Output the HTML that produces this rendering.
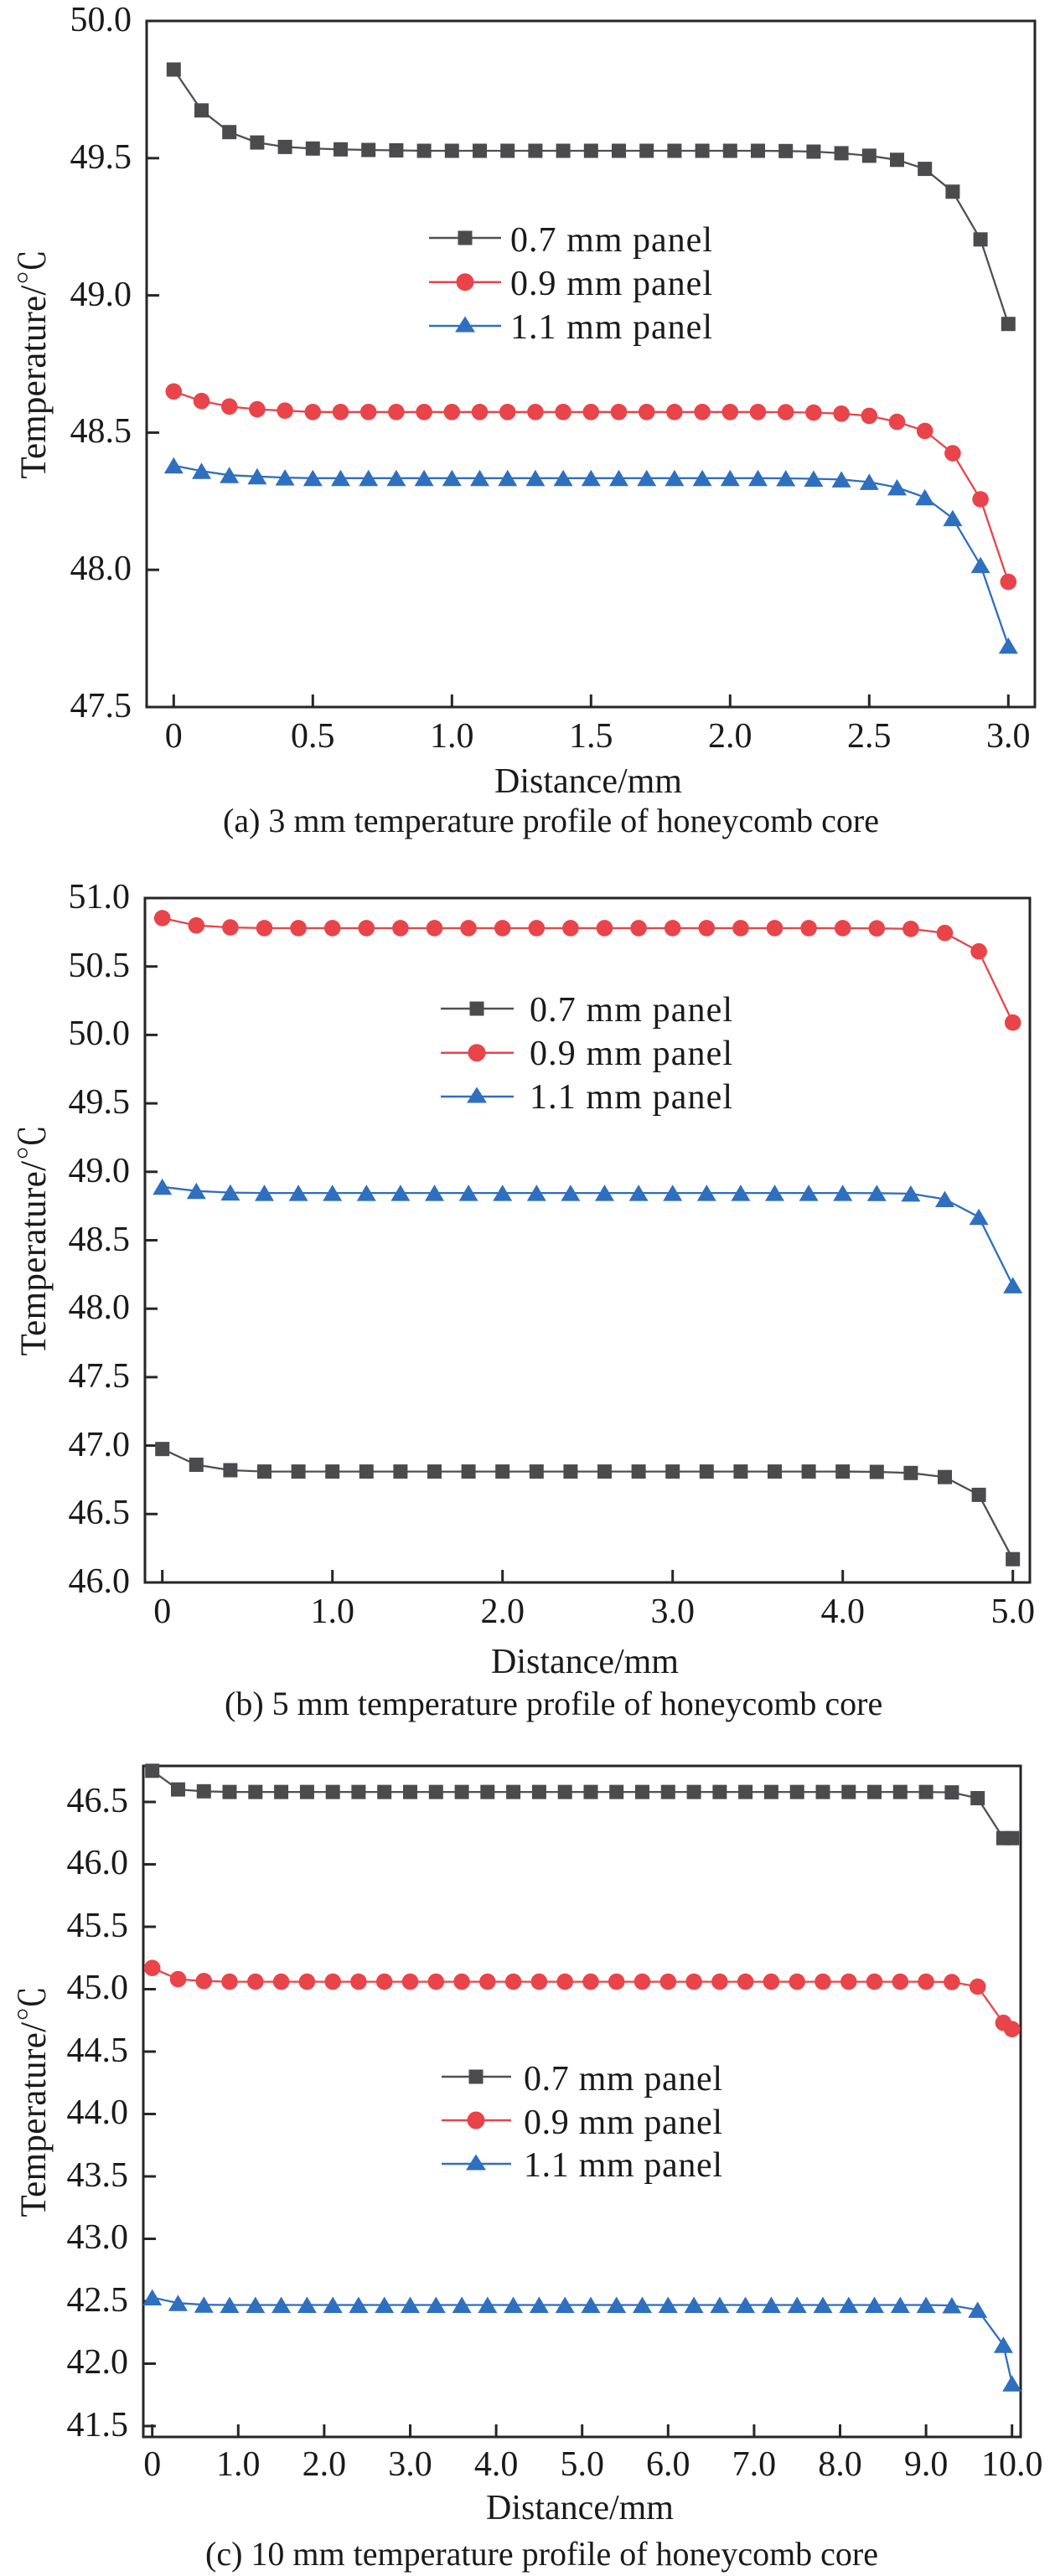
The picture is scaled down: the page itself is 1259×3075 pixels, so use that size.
<!DOCTYPE html>
<html><head><meta charset="utf-8"><style>
html,body{margin:0;padding:0;background:#fff}
svg{display:block}
text{font-family:"Liberation Serif","Noto Serif CJK SC",serif;fill:#1a1a1a}
.fr{fill:none;stroke:#262626;stroke-width:3}
.tk{stroke:#262626;stroke-width:3}
.yl{font-size:42px;text-anchor:end}
.xl{font-size:42px;text-anchor:middle}
.lg{font-size:42px}
.at{font-size:42px;text-anchor:middle}
.cap{font-size:40px}
.k{fill:none;stroke:#505052;stroke-width:2.3}
.r{fill:none;stroke:#e8444a;stroke-width:2.3}
.b{fill:none;stroke:#2f6fbf;stroke-width:2.3}
</style></head><body>
<svg width="1259" height="3075" viewBox="0 0 1259 3075" xmlns="http://www.w3.org/2000/svg">
<defs>
<marker id="mk" markerWidth="20" markerHeight="20" refX="10" refY="10" markerUnits="userSpaceOnUse" orient="0" overflow="visible"><rect x="1.5" y="1.5" width="17" height="17" fill="#4b4b4d"/></marker>
<marker id="mr" markerWidth="20" markerHeight="20" refX="10" refY="10" markerUnits="userSpaceOnUse" orient="0" overflow="visible"><circle cx="10" cy="10" r="9.8" fill="#e8444a"/></marker>
<marker id="mb" markerWidth="20" markerHeight="20" refX="10" refY="10" markerUnits="userSpaceOnUse" orient="0" overflow="visible"><polygon points="10,0 21.5,19.5 -1.5,19.5" fill="#2f6fbf"/></marker>
</defs>

<!-- ================= PANEL A ================= -->
<rect class="fr" x="175" y="25" width="1060" height="819"/>
<g class="tk">
<line x1="175" y1="188.8" x2="190" y2="188.8"/><line x1="175" y1="352.6" x2="190" y2="352.6"/><line x1="175" y1="516.4" x2="190" y2="516.4"/><line x1="175" y1="680.2" x2="190" y2="680.2"/>
<line x1="207.3" y1="844" x2="207.3" y2="829"/><line x1="373.3" y1="844" x2="373.3" y2="829"/><line x1="539.3" y1="844" x2="539.3" y2="829"/><line x1="705.3" y1="844" x2="705.3" y2="829"/><line x1="871.3" y1="844" x2="871.3" y2="829"/><line x1="1037.3" y1="844" x2="1037.3" y2="829"/><line x1="1203.3" y1="844" x2="1203.3" y2="829"/>
</g>
<text class="yl" x="157" y="37">50.0</text>
<text class="yl" x="157" y="201">49.5</text>
<text class="yl" x="157" y="365">49.0</text>
<text class="yl" x="157" y="528">48.5</text>
<text class="yl" x="157" y="692">48.0</text>
<text class="yl" x="157" y="856">47.5</text>
<text class="xl" x="207.3" y="892">0</text>
<text class="xl" x="373.3" y="892">0.5</text>
<text class="xl" x="539.3" y="892">1.0</text>
<text class="xl" x="705.3" y="892">1.5</text>
<text class="xl" x="871.3" y="892">2.0</text>
<text class="xl" x="1037.3" y="892">2.5</text>
<text class="xl" x="1203.3" y="892">3.0</text>
<text class="at" x="702" y="946">Distance/mm</text>
<text class="cap" x="266" y="993">(a) 3 mm temperature profile of honeycomb core</text>
<text transform="translate(54,434.5) rotate(-90)" font-size="43" text-anchor="middle" textLength="274">Temperature/℃</text>

<polyline class="k" marker-start="url(#mk)" marker-mid="url(#mk)" marker-end="url(#mk)" points="207.3,83 240.5,131.8 273.7,157.7 306.9,170.1 340.1,175.4 373.3,177.3 406.5,178.3 439.7,179 472.9,179.5 506.1,180 539.3,180 572.5,180 605.7,180 638.9,180 672.1,180 705.3,180 738.5,180 771.7,180 804.9,180 838.1,180 871.3,180 904.5,180 937.7,180.3 970.9,181 1004.1,182.9 1037.3,185.9 1070.5,190.8 1103.7,201.6 1136.9,228.8 1170.1,285.8 1203.3,386.7"/>
<polyline class="r" marker-start="url(#mr)" marker-mid="url(#mr)" marker-end="url(#mr)" points="207.3,467.3 240.5,478.7 273.7,485.3 306.9,488.6 340.1,490.2 373.3,491.8 406.5,491.8 439.7,491.8 472.9,491.8 506.1,491.8 539.3,491.8 572.5,491.8 605.7,491.8 638.9,491.8 672.1,491.8 705.3,491.8 738.5,491.8 771.7,491.8 804.9,491.8 838.1,491.8 871.3,491.8 904.5,491.8 937.7,492 970.9,492.5 1004.1,493.8 1037.3,496.4 1070.5,503.6 1103.7,514.4 1136.9,541 1170.1,596 1203.3,694.6"/>
<polyline class="b" marker-start="url(#mb)" marker-mid="url(#mb)" marker-end="url(#mb)" points="207.3,555.7 240.5,562.3 273.7,567.2 306.9,568.8 340.1,570.1 373.3,570.8 406.5,570.8 439.7,570.8 472.9,570.8 506.1,570.8 539.3,570.8 572.5,570.8 605.7,570.8 638.9,570.8 672.1,570.8 705.3,570.8 738.5,570.8 771.7,570.8 804.9,570.8 838.1,570.8 871.3,570.8 904.5,570.8 937.7,571 970.9,571.5 1004.1,572.4 1037.3,575.4 1070.5,581.9 1103.7,593.7 1136.9,618.6 1170.1,674.6 1203.3,770.9"/>

<!-- legend a -->
<line x1="512" y1="284" x2="598" y2="284" stroke="#505052" stroke-width="2.5"/>
<rect x="546.5" y="275.5" width="17" height="17" fill="#4b4b4d"/>
<line x1="512" y1="336.7" x2="598" y2="336.7" stroke="#e8444a" stroke-width="2.5"/>
<circle cx="555" cy="336.7" r="10.5" fill="#e8444a"/>
<line x1="512" y1="389" x2="598" y2="389" stroke="#2f6fbf" stroke-width="2.5"/>
<polygon points="555,377.5 567,396.5 543,396.5" fill="#2f6fbf"/>
<text class="lg" x="609" y="300" textLength="241">0.7 mm panel</text>
<text class="lg" x="609" y="352" textLength="241">0.9 mm panel</text>
<text class="lg" x="609" y="404" textLength="241">1.1 mm panel</text>

<!-- ================= PANEL B ================= -->
<rect class="fr" x="173" y="1072" width="1056" height="817"/>
<g class="tk">
<line x1="173" y1="1153.7" x2="188" y2="1153.7"/><line x1="173" y1="1235.4" x2="188" y2="1235.4"/><line x1="173" y1="1317.1" x2="188" y2="1317.1"/><line x1="173" y1="1398.8" x2="188" y2="1398.8"/><line x1="173" y1="1480.5" x2="188" y2="1480.5"/><line x1="173" y1="1562.2" x2="188" y2="1562.2"/><line x1="173" y1="1643.9" x2="188" y2="1643.9"/><line x1="173" y1="1725.6" x2="188" y2="1725.6"/><line x1="173" y1="1807.3" x2="188" y2="1807.3"/>
<line x1="193.7" y1="1889" x2="193.7" y2="1874"/><line x1="396.7" y1="1889" x2="396.7" y2="1874"/><line x1="599.7" y1="1889" x2="599.7" y2="1874"/><line x1="802.7" y1="1889" x2="802.7" y2="1874"/><line x1="1005.7" y1="1889" x2="1005.7" y2="1874"/><line x1="1208.7" y1="1889" x2="1208.7" y2="1874"/>
</g>
<text class="yl" x="155" y="1084">51.0</text>
<text class="yl" x="155" y="1166">50.5</text>
<text class="yl" x="155" y="1247">50.0</text>
<text class="yl" x="155" y="1329">49.5</text>
<text class="yl" x="155" y="1411">49.0</text>
<text class="yl" x="155" y="1493">48.5</text>
<text class="yl" x="155" y="1574">48.0</text>
<text class="yl" x="155" y="1656">47.5</text>
<text class="yl" x="155" y="1738">47.0</text>
<text class="yl" x="155" y="1819">46.5</text>
<text class="yl" x="155" y="1901">46.0</text>
<text class="xl" x="193.7" y="1937">0</text>
<text class="xl" x="396.7" y="1937">1.0</text>
<text class="xl" x="599.7" y="1937">2.0</text>
<text class="xl" x="802.7" y="1937">3.0</text>
<text class="xl" x="1005.7" y="1937">4.0</text>
<text class="xl" x="1208.7" y="1937">5.0</text>
<text class="at" x="698" y="1997">Distance/mm</text>
<text class="cap" x="268" y="2047">(b) 5 mm temperature profile of honeycomb core</text>
<text transform="translate(54,1480.5) rotate(-90)" font-size="43" text-anchor="middle" textLength="276">Temperature/℃</text>

<polyline class="r" marker-start="url(#mr)" marker-mid="url(#mr)" marker-end="url(#mr)" points="193.7,1096 234.3,1104.7 274.9,1107.1 315.5,1107.9 356.1,1107.9 396.7,1107.9 437.3,1107.9 477.9,1107.9 518.5,1107.9 559.1,1107.9 599.7,1107.9 640.3,1107.9 680.9,1107.9 721.5,1107.9 762.1,1107.9 802.7,1107.9 843.3,1107.9 883.9,1107.9 924.5,1107.9 965.1,1107.9 1005.7,1107.9 1046.3,1108.2 1086.9,1108.8 1127.5,1113.7 1168.1,1135.7 1208.7,1220.7"/>
<polyline class="b" marker-start="url(#mb)" marker-mid="url(#mb)" marker-end="url(#mb)" points="193.7,1416.8 234.3,1421.7 274.9,1423.6 315.5,1424.1 356.1,1424.1 396.7,1424.1 437.3,1424.1 477.9,1424.1 518.5,1424.1 559.1,1424.1 599.7,1424.1 640.3,1424.1 680.9,1424.1 721.5,1424.1 762.1,1424.1 802.7,1424.1 843.3,1424.1 883.9,1424.1 924.5,1424.1 965.1,1424.1 1005.7,1424.1 1046.3,1424.3 1086.9,1424.9 1127.5,1431.5 1168.1,1452.7 1208.7,1534.4"/>
<polyline class="k" marker-start="url(#mk)" marker-mid="url(#mk)" marker-end="url(#mk)" points="193.7,1729.7 234.3,1748.5 274.9,1755 315.5,1756.6 356.1,1756.6 396.7,1756.6 437.3,1756.6 477.9,1756.6 518.5,1756.6 559.1,1756.6 599.7,1756.6 640.3,1756.6 680.9,1756.6 721.5,1756.6 762.1,1756.6 802.7,1756.6 843.3,1756.6 883.9,1756.6 924.5,1756.6 965.1,1756.6 1005.7,1756.6 1046.3,1757 1086.9,1758.3 1127.5,1763.2 1168.1,1784.4 1208.7,1861.2"/>

<!-- legend b -->
<line x1="526" y1="1204" x2="613" y2="1204" stroke="#505052" stroke-width="2.5"/>
<rect x="560.5" y="1195.5" width="17" height="17" fill="#4b4b4d"/>
<line x1="526" y1="1256.7" x2="613" y2="1256.7" stroke="#e8444a" stroke-width="2.5"/>
<circle cx="569" cy="1256.7" r="10.5" fill="#e8444a"/>
<line x1="526" y1="1309" x2="613" y2="1309" stroke="#2f6fbf" stroke-width="2.5"/>
<polygon points="569,1297.5 581,1316.5 557,1316.5" fill="#2f6fbf"/>
<text class="lg" x="632" y="1219" textLength="242">0.7 mm panel</text>
<text class="lg" x="632" y="1271" textLength="242">0.9 mm panel</text>
<text class="lg" x="632" y="1323" textLength="242">1.1 mm panel</text>

<!-- ================= PANEL C ================= -->
<rect class="fr" x="171" y="2108" width="1047" height="801"/>
<g class="tk">
<line x1="171" y1="2151" x2="186" y2="2151"/><line x1="171" y1="2225.5" x2="186" y2="2225.5"/><line x1="171" y1="2300" x2="186" y2="2300"/><line x1="171" y1="2374.5" x2="186" y2="2374.5"/><line x1="171" y1="2449" x2="186" y2="2449"/><line x1="171" y1="2523.5" x2="186" y2="2523.5"/><line x1="171" y1="2598" x2="186" y2="2598"/><line x1="171" y1="2672.5" x2="186" y2="2672.5"/><line x1="171" y1="2747" x2="186" y2="2747"/><line x1="171" y1="2821.5" x2="186" y2="2821.5"/><line x1="171" y1="2896" x2="186" y2="2896"/>
<line x1="181.7" y1="2909" x2="181.7" y2="2894"/><line x1="284.3" y1="2909" x2="284.3" y2="2894"/><line x1="386.9" y1="2909" x2="386.9" y2="2894"/><line x1="489.5" y1="2909" x2="489.5" y2="2894"/><line x1="592.1" y1="2909" x2="592.1" y2="2894"/><line x1="694.7" y1="2909" x2="694.7" y2="2894"/><line x1="797.3" y1="2909" x2="797.3" y2="2894"/><line x1="899.9" y1="2909" x2="899.9" y2="2894"/><line x1="1002.5" y1="2909" x2="1002.5" y2="2894"/><line x1="1105.1" y1="2909" x2="1105.1" y2="2894"/><line x1="1207.7" y1="2909" x2="1207.7" y2="2894"/>
</g>
<text class="yl" x="153" y="2163">46.5</text>
<text class="yl" x="153" y="2237">46.0</text>
<text class="yl" x="153" y="2312">45.5</text>
<text class="yl" x="153" y="2386">45.0</text>
<text class="yl" x="153" y="2461">44.5</text>
<text class="yl" x="153" y="2535">44.0</text>
<text class="yl" x="153" y="2610">43.5</text>
<text class="yl" x="153" y="2684">43.0</text>
<text class="yl" x="153" y="2759">42.5</text>
<text class="yl" x="153" y="2833">42.0</text>
<text class="yl" x="153" y="2908">41.5</text>
<text class="xl" x="181.7" y="2955">0</text>
<text class="xl" x="284.3" y="2955">1.0</text>
<text class="xl" x="386.9" y="2955">2.0</text>
<text class="xl" x="489.5" y="2955">3.0</text>
<text class="xl" x="592.1" y="2955">4.0</text>
<text class="xl" x="694.7" y="2955">5.0</text>
<text class="xl" x="797.3" y="2955">6.0</text>
<text class="xl" x="899.9" y="2955">7.0</text>
<text class="xl" x="1002.5" y="2955">8.0</text>
<text class="xl" x="1105.1" y="2955">9.0</text>
<text class="xl" x="1207.7" y="2955">10.0</text>
<text class="at" x="692" y="3007">Distance/mm</text>
<text class="cap" x="245" y="3062">(c) 10 mm temperature profile of honeycomb core</text>
<text transform="translate(54,2508.5) rotate(-90)" font-size="43" text-anchor="middle" textLength="276">Temperature/℃</text>

<polyline class="k" marker-start="url(#mk)" marker-mid="url(#mk)" marker-end="url(#mk)" points="181.7,2113.8 212.5,2136.1 243.3,2138.3 274,2139.1 304.8,2139.1 335.6,2139.1 366.4,2139.1 397.2,2139.1 427.9,2139.1 458.7,2139.1 489.5,2139.1 520.3,2139.1 551.1,2139.1 581.8,2139.1 612.6,2139.1 643.4,2139.1 674.2,2139.1 705,2139.1 735.7,2139.1 766.5,2139.1 797.3,2139.1 828.1,2139.1 858.9,2139.1 889.6,2139.1 920.4,2139.1 951.2,2139.1 982,2139.1 1012.8,2139.1 1043.5,2139.1 1074.3,2139.1 1105.1,2139.1 1135.9,2139.6 1166.7,2146.5 1197.4,2194.2 1207.7,2194.2"/>
<polyline class="r" marker-start="url(#mr)" marker-mid="url(#mr)" marker-end="url(#mr)" points="181.7,2349.2 212.5,2362.6 243.3,2364.8 274,2365.6 304.8,2365.6 335.6,2365.6 366.4,2365.6 397.2,2365.6 427.9,2365.6 458.7,2365.6 489.5,2365.6 520.3,2365.6 551.1,2365.6 581.8,2365.6 612.6,2365.6 643.4,2365.6 674.2,2365.6 705,2365.6 735.7,2365.6 766.5,2365.6 797.3,2365.6 828.1,2365.6 858.9,2365.6 889.6,2365.6 920.4,2365.6 951.2,2365.6 982,2365.6 1012.8,2365.6 1043.5,2365.6 1074.3,2365.6 1105.1,2365.6 1135.9,2366 1166.7,2371.5 1197.4,2414.7 1207.7,2422.2"/>
<polyline class="b" marker-start="url(#mb)" marker-mid="url(#mb)" marker-end="url(#mb)" points="181.7,2742.5 212.5,2749.2 243.3,2751.2 274,2751.5 304.8,2751.5 335.6,2751.5 366.4,2751.5 397.2,2751.5 427.9,2751.5 458.7,2751.5 489.5,2751.5 520.3,2751.5 551.1,2751.5 581.8,2751.5 612.6,2751.5 643.4,2751.5 674.2,2751.5 705,2751.5 735.7,2751.5 766.5,2751.5 797.3,2751.5 828.1,2751.5 858.9,2751.5 889.6,2751.5 920.4,2751.5 951.2,2751.5 982,2751.5 1012.8,2751.5 1043.5,2751.5 1074.3,2751.5 1105.1,2751.5 1135.9,2752 1166.7,2757.4 1197.4,2799.2 1207.7,2845.3"/>

<!-- legend c -->
<line x1="527" y1="2479" x2="610" y2="2479" stroke="#505052" stroke-width="2.5"/>
<rect x="559.5" y="2470.5" width="17" height="17" fill="#4b4b4d"/>
<line x1="527" y1="2531" x2="610" y2="2531" stroke="#e8444a" stroke-width="2.5"/>
<circle cx="568" cy="2531" r="10.5" fill="#e8444a"/>
<line x1="527" y1="2583" x2="610" y2="2583" stroke="#2f6fbf" stroke-width="2.5"/>
<polygon points="568,2571.5 580,2590.5 556,2590.5" fill="#2f6fbf"/>
<text class="lg" x="625" y="2495" textLength="237">0.7 mm panel</text>
<text class="lg" x="625" y="2547" textLength="237">0.9 mm panel</text>
<text class="lg" x="625" y="2598" textLength="237">1.1 mm panel</text>
</svg>
</body></html>
